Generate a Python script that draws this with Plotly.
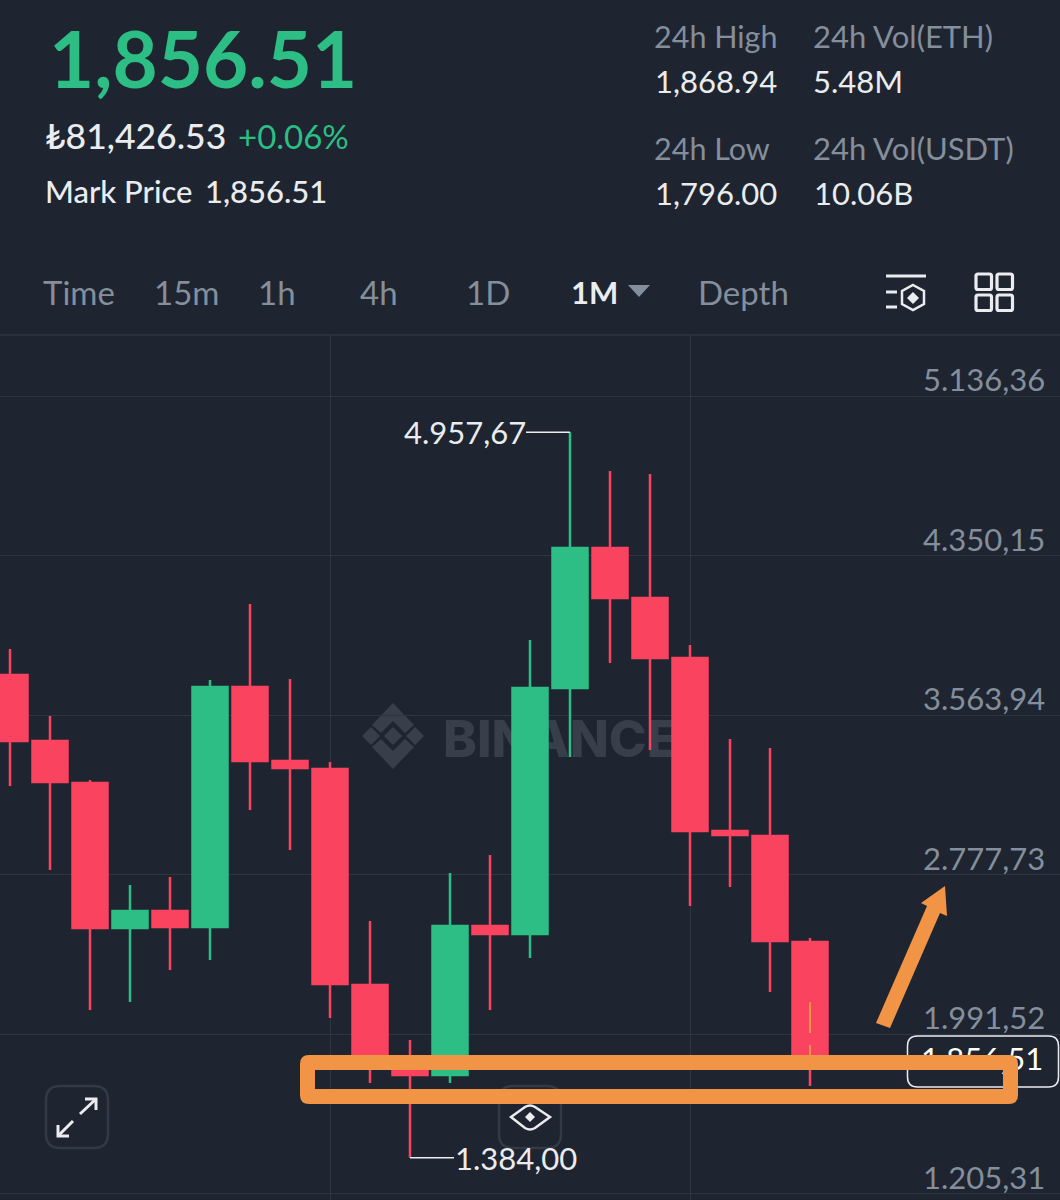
import plotly.graph_objects as go

# ---------- data ----------
candle_index = list(range(21))
opens  = [3762, 3437, 3230, 2516, 2599, 2521, 3703, 3338, 3299, 2235, 1826, 1791, 2525, 2486, 3698, 4388, 4141, 3846, 2993, 2969, 2447]
closes = [3437, 3235, 2516, 2599, 2521, 3703, 3338, 3304, 2240, 1826, 1791, 2525, 2486, 3698, 4388, 4141, 3846, 2993, 2974, 2452, 1856.51]
highs  = [3890, 3560, 3245, 2727, 2767, 3737, 4112, 3742, 3333, 2550, 1964, 2787, 2875, 3934, 4957.67, 4767, 4752, 3910, 3447, 3402, 2466]
lows   = [3215, 2801, 2112, 2151, 2309, 2358, 3097, 2900, 2072, 1752, 1384.00, 1752, 2112, 2368, 3358, 3821, 3392, 2624, 2718, 2200, 1737]

price_ticks = [5136.36, 4350.15, 3563.94, 2777.73, 1991.52, 1205.31]
price_tick_labels = ["5.136,36", "4.350,15", "3.563,94", "2.777,73", "1.991,52", "1.205,31"]
vertical_grid = [8, 17]
last_price = 1856.51
last_price_label = "1.856,51"
high_label = "4.957,67"
low_label = "1.384,00"

# ---------- style ----------
BG = "#1E2530"
GRID = "#2E3540"
RED = "#F9435F"
GREEN = "#2DBE85"
WHITE = "#EAECEF"
GREY = "#848E9C"
ORANGE = "#F29445"
FONT = "Lato"
W, H = 1060, 1200


def X(p):
    return p / W


def Y(p):
    return 1 - p / H


def P(a, b):
    return f"{X(a):.5f},{Y(b):.5f}"


def poly(points, close=True):
    s = "M" + " L".join(P(a, b) for a, b in points)
    return s + (" Z" if close else "")


def rrect(x0, y0, x1, y1, r):
    return (f"M{P(x0 + r, y0)} L{P(x1 - r, y0)} Q{P(x1, y0)} {P(x1, y0 + r)} L{P(x1, y1 - r)} "
            f"Q{P(x1, y1)} {P(x1 - r, y1)} L{P(x0 + r, y1)} Q{P(x0, y1)} {P(x0, y1 - r)} "
            f"L{P(x0, y0 + r)} Q{P(x0, y0)} {P(x0 + r, y0)} Z")


def pshape(path, fill=None, line=None, lw=0, layer="above", **kw):
    d = dict(type="path", xref="paper", yref="paper", path=path, layer=layer,
             fillcolor=fill or "rgba(0,0,0,0)",
             line=dict(color=line or "rgba(0,0,0,0)", width=lw))
    d.update(kw)
    return d


fig = go.Figure()
for rising, color in [(True, GREEN), (False, RED)]:
    idx = [i for i in candle_index if (closes[i] > opens[i]) == rising]
    fig.add_trace(go.Box(
        x=[candle_index[i] for i in idx],
        lowerfence=[lows[i] for i in idx],
        q1=[min(opens[i], closes[i]) for i in idx],
        median=[(opens[i] + closes[i]) / 2 for i in idx],
        q3=[max(opens[i], closes[i]) for i in idx],
        upperfence=[highs[i] for i in idx],
        width=0.875, whiskerwidth=0, fillcolor=color,
        line=dict(color=color, width=2.5),
        hoverinfo="skip", showlegend=False,
    ))
fig.add_trace(go.Scatter(
    x=[25.83], y=[last_price], mode="text", text=[last_price_label],
    textposition="middle left", textfont=dict(family=FONT, size=31, color="#FFFFFF"),
    hoverinfo="skip", showlegend=False,
))

shapes = []
# header rule
shapes.append(dict(type="line", xref="paper", yref="paper", x0=0, x1=1, y0=Y(335), y1=Y(335),
                   line=dict(color=GRID, width=1.5), layer="below"))
# watermark
wm = "#383E4A"
cx, cy = 393, 736
for dx, dy, r in [(0, 0, 9), (-22, 0, 9), (22, 0, 9)]:
    shapes.append(pshape(poly([(cx + dx - r, cy + dy), (cx + dx, cy + dy - r), (cx + dx + r, cy + dy), (cx + dx, cy + dy + r)]),
                         fill=wm, layer="below"))
shapes.append(pshape(poly([(cx - 21, cy - 11), (cx, cy - 33), (cx + 21, cy - 11), (cx + 12, cy - 3), (cx, cy - 15), (cx - 12, cy - 3)]),
                     fill=wm, layer="below"))
shapes.append(pshape(poly([(cx - 21, cy + 11), (cx, cy + 33), (cx + 21, cy + 11), (cx + 12, cy + 3), (cx, cy + 15), (cx - 12, cy + 3)]),
                     fill=wm, layer="below"))
shapes.append(dict(type="rect", xref="paper", yref="paper", x0=X(437), x1=X(760), y0=Y(775), y1=Y(697),
                   fillcolor="rgba(0,0,0,0)", line=dict(width=0), layer="below",
                   label=dict(text="BINANCE", textposition="middle left",
                              font=dict(family="Inter", size=51, color=wm, weight=800))))

# high / low leader lines
shapes.append(dict(type="line", xref="x", yref="y", x0=-44, x1=0, y0=highs[14], y1=highs[14],
                   line=dict(color=WHITE, width=1.5), xsizemode="pixel", xanchor=14))
shapes.append(dict(type="line", xref="x", yref="y", x0=0, x1=44, y0=lows[10], y1=lows[10],
                   line=dict(color=WHITE, width=1.5), xsizemode="pixel", xanchor=10))

# last-price dashes inside the last candle
for a, b in [(1002, 1033), (1045, 1055)]:
    shapes.append(dict(type="line", xref="x", yref="paper", x0=20, x1=20, y0=Y(a), y1=Y(b),
                       line=dict(color=ORANGE, width=2)))

# header icons
shapes.append(pshape(poly([(628, 285), (650, 285), (639, 297)]), fill=GREY))
for a, b, c in [(886, 926, 276), (886, 897, 292), (886, 897, 307)]:
    shapes.append(pshape(poly([(a, c), (b, c)], close=False), line=WHITE, lw=3))
shapes.append(pshape(poly([(913, 285), (924, 291), (924, 304), (913, 310), (902, 304), (902, 291)]), line=WHITE, lw=2.5))
shapes.append(pshape(poly([(913, 292), (919, 298), (913, 304), (907, 298)]), fill=WHITE))
for a, b in [(976, 274), (997, 274), (976, 295), (997, 295)]:
    shapes.append(pshape(rrect(a, b, a + 15.5, b + 15.5, 2), line=WHITE, lw=3.2))

# expand button
shapes.append(pshape(rrect(46, 1086, 108, 1148, 14), line="#333A45", lw=2.5))
shapes.append(pshape(poly([(80, 1114), (96, 1099)], close=False), line=WHITE, lw=3))
shapes.append(pshape(poly([(85, 1099), (96, 1099), (96, 1110)], close=False), line=WHITE, lw=3))
shapes.append(pshape(poly([(73, 1121), (58, 1136)], close=False), line=WHITE, lw=3))
shapes.append(pshape(poly([(58, 1125), (58, 1136), (69, 1136)], close=False), line=WHITE, lw=3))

# eye button
shapes.append(pshape(rrect(499, 1086, 561, 1148, 14), line="#333A45", lw=2.5))
shapes.append(pshape(f"M{P(511, 1117)} L{P(525, 1107)} Q{P(530, 1104)} {P(535, 1107)} L{P(550, 1117)} "
                     f"L{P(535, 1128)} Q{P(530, 1131)} {P(525, 1128)} Z", line=WHITE, lw=2.5))
shapes.append(pshape(poly([(530, 1112), (535, 1117), (530, 1122), (525, 1117)]), fill=WHITE))

# last price box
shapes.append(pshape(rrect(907.5, 1036, 1058.5, 1087, 10), line=WHITE, lw=1.5))

# orange hand-drawn annotation: ring and arrow
shapes.append(pshape(rrect(300, 1055, 1018, 1104, 9) + " " + poly([(315, 1070), (1003, 1070), (1003, 1089), (315, 1089)]),
                     fill=ORANGE, fillrule="evenodd"))
shapes.append(pshape(poly([(876, 1023), (890, 1028), (940, 913), (947, 916), (945, 886), (921, 903), (927, 906)]), fill=ORANGE))

annotations = []


def txt(s, x, y, size, color, weight=400, anchor="left"):
    annotations.append(dict(text=s, x=X(x), y=Y(y), xref="paper", yref="paper", showarrow=False,
                            xanchor=anchor, yanchor="middle", borderpad=0,
                            font=dict(family=FONT, size=size, color=color, weight=weight)))


txt("1,856.51", 48, 58, 78, GREEN, 700)
txt("₺81,426.53", 44, 136, 35.5, WHITE, 500)
txt("+0.06%", 237, 136, 33, GREEN)
txt("Mark Price", 44, 191, 31, WHITE, 500)
txt("1,856.51", 204, 191, 31, WHITE, 500)
txt("24h High", 653, 36, 30.5, GREY)
txt("24h Vol(ETH)", 812, 36, 31, GREY)
txt("1,868.94", 654, 81, 31, WHITE)
txt("5.48M", 812, 81, 31, WHITE)
txt("24h Low", 653, 148, 30.5, GREY)
txt("24h Vol(USDT)", 812, 148, 31, GREY)
txt("1,796.00", 654, 193, 31, WHITE)
txt("10.06B", 813, 193, 31, WHITE)
for s, x in [("Time", 42), ("15m", 153), ("1h", 257), ("4h", 359), ("1D", 465), ("Depth", 697)]:
    txt(s, x, 292, 33, GREY)
txt("1M", 570, 292, 31, WHITE, 700)

for v, s in zip(price_ticks, price_tick_labels):
    annotations.append(dict(text=s, x=X(1046), y=v, xref="paper", yref="y", showarrow=False,
                            xanchor="right", yanchor="middle", yshift=17, borderpad=0,
                            font=dict(family=FONT, size=31, color=GREY)))
annotations.append(dict(text=high_label, x=14, y=highs[14], xref="x", yref="y", showarrow=False,
                        xanchor="right", yanchor="middle", xshift=-43, borderpad=0,
                        font=dict(family=FONT, size=31, color=WHITE)))
annotations.append(dict(text=low_label, x=10, y=lows[10], xref="x", yref="y", showarrow=False,
                        xanchor="left", yanchor="middle", xshift=44, borderpad=0,
                        font=dict(family=FONT, size=31, color=WHITE)))

fig.update_layout(
    width=W, height=H, margin=dict(l=0, r=0, t=0, b=0, pad=0),
    paper_bgcolor=BG, plot_bgcolor="rgba(0,0,0,0)",
    boxmode="overlay", showlegend=False, hovermode=False,
    shapes=shapes, annotations=annotations,
    xaxis=dict(range=[-0.25, 26.25], tickmode="array",
               tickvals=vertical_grid, showticklabels=False, ticks="", showgrid=True,
               gridcolor=GRID, gridwidth=1, zeroline=False, showline=False),
    yaxis=dict(range=[1175.6, 5436.9], domain=[0, 865 / 1200], tickmode="array", tickvals=price_ticks,
               showticklabels=False, ticks="", showgrid=True, gridcolor=GRID, gridwidth=1,
               zeroline=False, showline=False),
)

fig.write_html("out.html", config=dict(displayModeBar=False),
               post_script="document.body.style.margin='0';document.body.style.background='%s';" % BG)
